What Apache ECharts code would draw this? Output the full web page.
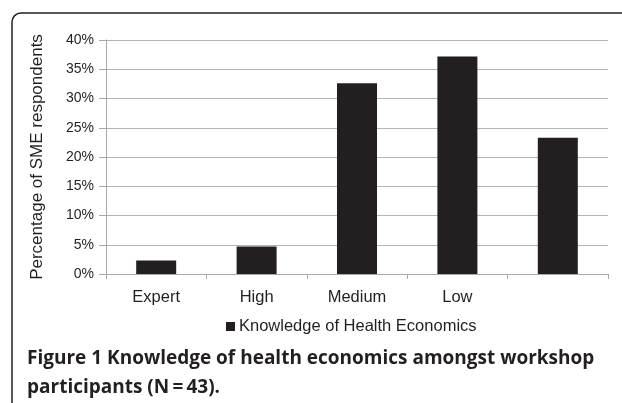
<!DOCTYPE html>
<html>
<head>
<meta charset="utf-8">
<script src="https://cdn.jsdelivr.net/npm/echarts@6/dist/echarts.min.js"></script>
<style>
html,body{margin:0;padding:0;background:#fff;}
#chart{width:622px;height:403px;}
</style>
</head>
<body>
<div id="chart"></div>
<script>
var categories = ['Expert', 'High', 'Medium', 'Low', ''];
var seriesName = 'Knowledge of Health Economics';
var values = [2.3, 4.7, 32.6, 37.2, 23.3];
var yAxisName = 'Percentage of SME respondents';
var captionLines = ['Figure 1 Knowledge of health economics amongst workshop', 'participants (N\u2009=\u200943).'];

var chart = echarts.init(document.getElementById('chart'));
var ink = '#231f20';
var option = {
  animation: false,
  backgroundColor: '#ffffff',
  grid: { left: 106, right: 14, top: 40, bottom: 129 },
  legend: {
    data: [seriesName],
    left: 221, top: 313,
    icon: 'rect', itemWidth: 9, itemHeight: 9, itemGap: 4,
    textStyle: { fontFamily: 'Liberation Sans, Arial, sans-serif', fontSize: 16.5, color: ink, padding: [0,0,0,-1] }
  },
  xAxis: {
    type: 'category',
    data: categories,
    axisLine: { lineStyle: { color: '#a8a8a8', width: 1 } },
    axisTick: { show: true, alignWithLabel: false, length: 5, lineStyle: { color: '#a8a8a8' } },
    axisLabel: { fontFamily: 'Liberation Sans, Arial, sans-serif', fontSize: 16.5, color: ink, margin: 15 }
  },
  yAxis: {
    type: 'value',
    min: 0, max: 40, interval: 5,
    name: yAxisName,
    nameLocation: 'middle',
    nameGap: 60,
    nameTextStyle: { fontFamily: 'Liberation Sans, Arial, sans-serif', fontSize: 17, color: ink },
    axisLine: { show: true, lineStyle: { color: '#a8a8a8', width: 1 } },
    axisTick: { show: true, length: 7, lineStyle: { color: '#a8a8a8' } },
    axisLabel: { formatter: '{value}%', fontFamily: 'Liberation Sans, Arial, sans-serif', fontSize: 14, color: ink, margin: 12 },
    splitLine: { lineStyle: { color: '#b4b4b4', width: 1 } }
  },
  series: [{
    name: seriesName,
    type: 'bar',
    data: values,
    barWidth: 40,
    itemStyle: { color: ink }
  }],
  graphic: [
    {
      type: 'rect',
      shape: { x: 12, y: 13, width: 800, height: 600, r: 9 },
      style: { fill: 'none', stroke: ink, lineWidth: 1.5 },
      silent: true
    },
    {
      type: 'text', left: 27, top: 349,
      style: { text: captionLines[0], font: 'bold 19px "Open Sans", sans-serif', fill: ink }
    },
    {
      type: 'text', left: 27, top: 378,
      style: { text: captionLines[1], font: 'bold 19px "Open Sans", sans-serif', fill: ink }
    }
  ]
};
chart.setOption(option);
</script>
</body>
</html>
